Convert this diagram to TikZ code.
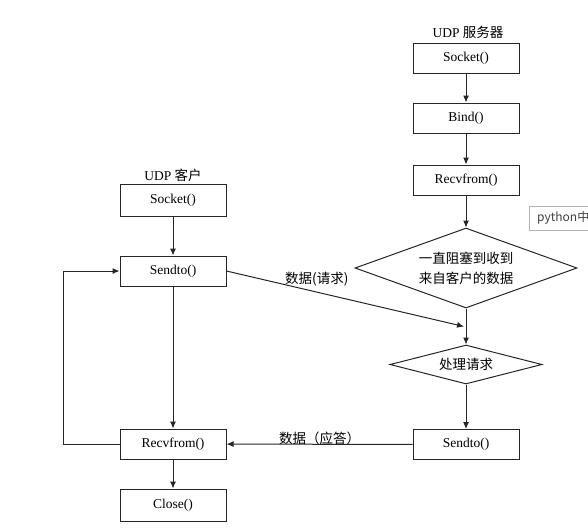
\documentclass[tikz,border=0pt]{standalone}
\usepackage{fontspec}
\setmainfont{Liberation Serif}
\newfontfamily\cjk{Noto Sans CJK SC}
\usetikzlibrary{calc,shapes,arrows.meta}

\tikzset{
    fn/.style={draw, rectangle, minimum width=106pt, minimum height=30pt, inner sep=0pt},
    test/.style={draw, diamond, inner sep=0pt, aspect=3, align=center,
        font=\cjk\fontsize{13.5}{20}\selectfont},
    lbl/.style={font=\cjk\fontsize{13.5}{17}\selectfont},
}

\begin{document}
\begin{tikzpicture}[x=1pt,y=-1pt, line width=1pt, draw=black!85,
        >={Latex[length=7pt,width=6pt]},
        font=\fontsize{13.5}{17}\selectfont]
        \useasboundingbox (0,0) rectangle (588,531);
        % server
        \node (stitle) at (468,32) {UDP {\cjk 服务器}};
        \node[fn] (ssock) at (466,58) {Socket()};
        \node[fn] (sbind) at (466,118) {Bind()};
        \node[fn] (srecv) at (466,180) {Recvfrom()};
        \node[test, minimum width=222pt, minimum height=80pt] (wait) at (466,268)
            {一直阻塞到收到\\来自客户的数据};
        \node[test, minimum width=152pt, minimum height=39pt] (proc) at (466,364.5)
            {处理请求};
        \node[fn] (ssend) at (466,444.5) {Sendto()};
        % client
        \node (ctitle) at (173,175) {UDP {\cjk 客户}};
        \node[fn, minimum height=32pt] (csock) at (173,200) {Socket()};
        \node[fn] (csend) at (173,271) {Sendto()};
        \node[fn] (crecv) at (173,444) {Recvfrom()};
        \node[fn, minimum height=32pt] (cclose) at (173,505) {Close()};
        \foreach \a/\b in {ssock/sbind, sbind/srecv, srecv/wait, wait/proc, proc/ssend,
            csock/csend, csend/crecv, crecv/cclose}
        \draw[->] (\a) -- (\b);
        % data
        \coordinate (hit) at ($(wait.south)!0.5!(proc.north)$);
        \draw[->] (csend.east) -- node[lbl, pos=0.38, above=2pt] {数据(请求)}
            ([xshift=-2pt]hit);
        \draw[->] (ssend) -- node[lbl, yshift=6pt] {数据（应答）} (crecv);
        \draw[->] (crecv.west) -- ++(-56,0) |- (csend.west);
        % overlay
        \node[draw=black!30, thin, anchor=west, minimum height=24pt, text width=70pt,
            inner xsep=8pt, text=black!75, font=\cjk\fontsize{12}{14}\selectfont]
            (note) at (529,218) {python中};
\end{tikzpicture}
\end{document}
